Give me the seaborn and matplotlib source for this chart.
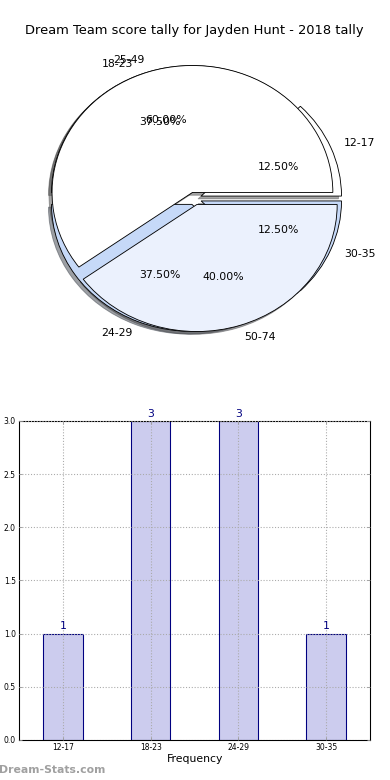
import numpy as np
import matplotlib
matplotlib.use("Agg")
import matplotlib.pyplot as plt
import seaborn as sns

# ─────────────────────────────────────────────
# DATA
# ─────────────────────────────────────────────
age_groups = ["12-17", "18-23", "24-29", "30-35"]
age_counts = [1, 3, 3, 1]

score_bands = ["25-49", "50-74"]
score_counts = [3, 2]

title = "Dream Team score tally for Jayden Hunt - 2018 tally"

# ─────────────────────────────────────────────
# FIGURE
# ─────────────────────────────────────────────
DPI = 78
fig = plt.figure(figsize=(5, 10), dpi=DPI)
plt.rcParams["font.family"] = ["DejaVu Sans"]

ax_pie = fig.add_axes([0.049, 0.542, 0.9, 0.407])
ax_bar = fig.add_axes([0.049, 0.0513, 0.9, 0.409])

edge = {"edgecolor": "black", "linewidth": 0.8}

# age group pie (drawn first, mostly hidden)
ax_pie.pie(age_counts, labels=age_groups, explode=[0.05] * 4,
           colors=["white", "white", "#c6d9f8", "#c6d9f8"],
           autopct="%1.2f%%", shadow=True, wedgeprops=edge,
           textprops={"fontsize": 10})

# score band pie on top
ax_pie.pie(score_counts, labels=score_bands, explode=[0.05, 0.05],
           colors=["white", "#ebf1fd"],
           autopct="%1.2f%%", shadow=True, wedgeprops=edge,
           textprops={"fontsize": 10})

ax_pie.set_aspect("auto")
ax_pie.set_xlim(-1.25, 1.25)
ax_pie.set_ylim(-1.25, 1.25)
ax_pie.set_title(title, fontsize=12, pad=5)

# ─────────────────────────────────────────────
# BAR CHART
# ─────────────────────────────────────────────
sns.barplot(x=age_groups, y=age_counts, color="#ccccee", saturation=1,
            width=0.45, edgecolor="navy", linewidth=1, ax=ax_bar, zorder=1)

for i, v in enumerate(age_counts):
    ax_bar.annotate(str(v), (i, v), xytext=(0, 2), textcoords="offset points",
                    ha="center", va="bottom", color="navy", fontsize=10)

ax_bar.set_xlim(-0.5, 3.5)
ax_bar.set_ylim(0, 3)
ax_bar.set_yticks(np.arange(0, 3.01, 0.5))
ax_bar.set_yticklabels([f"{t:.1f}" for t in np.arange(0, 3.01, 0.5)])
ax_bar.set_xlabel("Frequency", fontsize=10, labelpad=2)
ax_bar.set_ylabel("")
ax_bar.grid(True, linestyle=":", color="#aaaaaa", linewidth=1, zorder=3)
ax_bar.set_axisbelow(False)
ax_bar.tick_params(direction="in", top=True, right=True, labelsize=7,
                   length=3, color="#999999", pad=3)
for s in ax_bar.spines.values():
    s.set_color("black")
    s.set_linewidth(1)

fig.text(-0.002, 0.0128, "Dream-Stats.com", fontsize=10, fontweight="bold",
         color="#a0a0a0", ha="left", va="center")

fig.savefig("out.png", dpi=DPI)
